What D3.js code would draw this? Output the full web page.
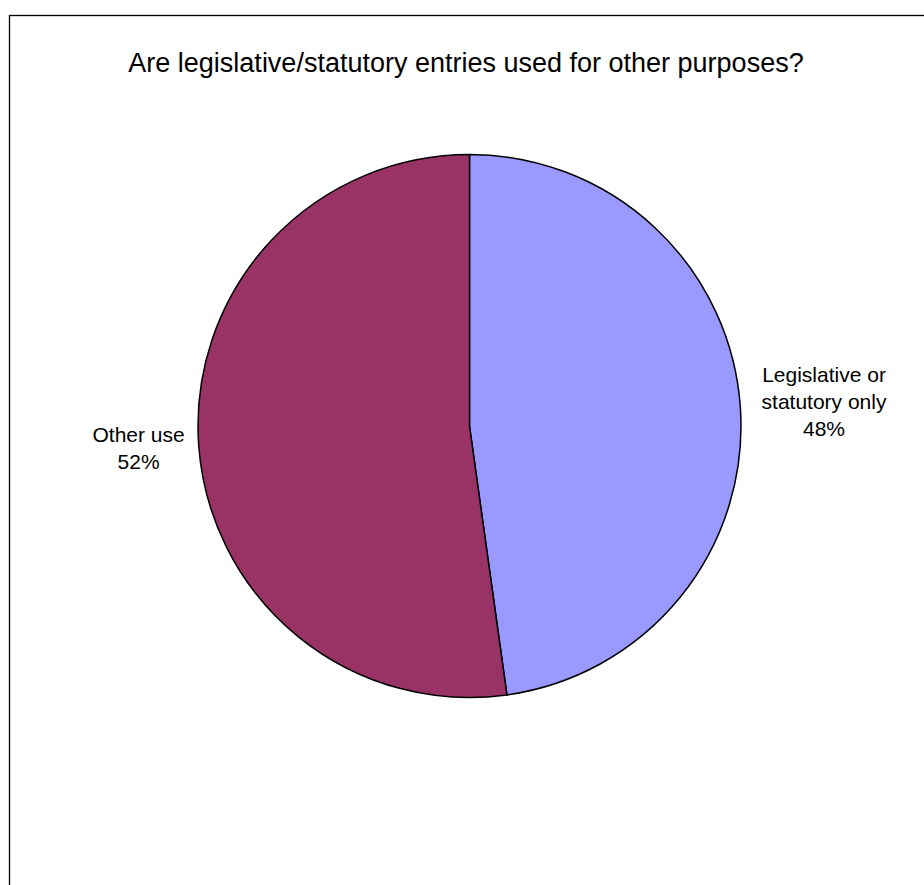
<!DOCTYPE html>
<html>
<head>
<meta charset="utf-8">
<script src="https://cdn.jsdelivr.net/npm/d3@7"></script>
<style>
html, body { margin: 0; padding: 0; background: #fff; }
svg { display: block; }
text { font-family: "Liberation Sans", Arial, sans-serif; fill: #000; }
</style>
</head>
<body>
<svg id="chart" width="924" height="885"></svg>
<script>
const title = "Are legislative/statutory entries used for other purposes?";
const categories = ["Legislative or statutory only", "Other use"];
const labelLines = [["Legislative or", "statutory only"], ["Other use"]];
const values = [47.8, 52.2];
const colors = ["#9999FF", "#993366"];

const svg = d3.select("#chart");
const W = 924, H = 885;

// chart frame
svg.append("rect")
  .attr("x", 9.5).attr("y", 15.5)
  .attr("width", W + 20).attr("height", H + 20)
  .attr("fill", "#fff").attr("stroke", "#000").attr("stroke-width", 1.3);

svg.append("text")
  .attr("x", 466).attr("y", 72)
  .attr("text-anchor", "middle")
  .style("font-size", "27px")
  .text(title);

const cx = 469.5, cy = 426, r = 271.5;
const data = categories.map((c, i) => ({ cat: c, value: values[i], lines: labelLines[i], color: colors[i] }));

const pie = d3.pie().sort(null).value(d => d.value);
const arcs = pie(data);
const arc = d3.arc().innerRadius(0).outerRadius(r);

const g = svg.append("g").attr("transform", `translate(${cx},${cy})`);
g.selectAll("path").data(arcs).enter().append("path")
  .attr("d", arc)
  .attr("fill", d => d.data.color)
  .attr("stroke", "#000")
  .attr("stroke-width", 1.5)
  .attr("stroke-linejoin", "round");

const fs = 21, lh = 27;
arcs.forEach(a => {
  const mid = (a.startAngle + a.endAngle) / 2;
  const sx = Math.sin(mid), sy = -Math.cos(mid);
  const lines = a.data.lines.concat([Math.round(a.data.value) + "%"]);
  const t = g.append("text").style("font-size", fs + "px").attr("text-anchor", "middle");
  lines.forEach((l, i) => {
    t.append("tspan").attr("x", 0).attr("dy", i === 0 ? 0 : lh).text(l);
  });
  const bb = t.node().getBBox();
  const gap = sx > 0 ? 21 : 14;
  const ex = (r + gap) * sx, ey = r * sy * 1.25;
  const tx = sx > 0 ? ex + bb.width / 2 : ex - bb.width / 2;
  const ty = ey - (bb.y + bb.height / 2) - 1;
  t.attr("transform", `translate(${tx},${ty})`);
});
</script>
</body>
</html>
